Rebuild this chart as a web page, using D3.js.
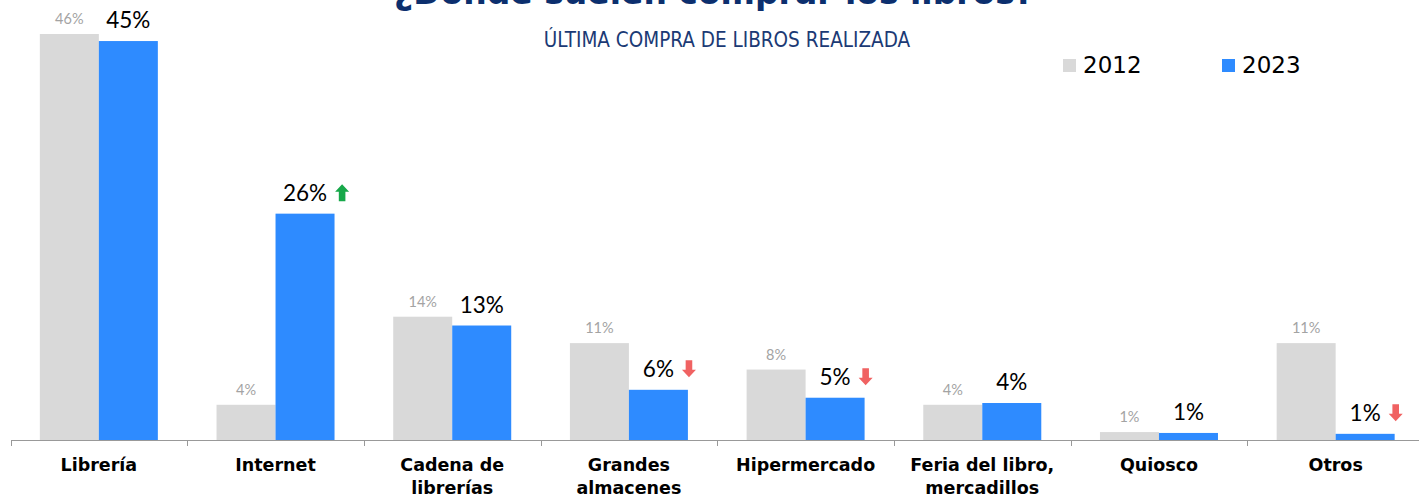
<!DOCTYPE html>
<html>
<head>
<meta charset="utf-8">
<script src="https://cdn.jsdelivr.net/npm/d3@7"></script>
<style>
  body { margin: 0; background: #fff; }
  svg { display: block; }
</style>
</head>
<body>
<svg id="svgCanvas" width="1419" height="494"></svg>
<script>
// data
var categories = ["Librería", "Internet", "Cadena de|librerías", "Grandes|almacenes", "Hipermercado", "Feria del libro,|mercadillos", "Quiosco", "Otros"];
var values2012 = [46.1, 4.0, 14.0, 11.0, 8.0, 4.0, 0.9, 11.0];
var values2023 = [45.3, 25.7, 13.0, 5.7, 4.8, 4.2, 0.8, 0.7];
var labels2012 = ["46%", "4%", "14%", "11%", "8%", "4%", "1%", "11%"];
var labels2023 = ["45%", "26%", "13%", "6%", "5%", "4%", "1%", "1%"];
var trends = ["", "up", "", "down", "down", "", "", "down"];
var years = ["2012", "2023"];
var colors = ["#d9d9d9", "#2e8bff"];

var svg = d3.select("#svgCanvas");
var baseY = 440;

var x = d3.scaleBand().domain(categories).range([10.5, 1424]).paddingInner(0).paddingOuter(0);
var sub = d3.scaleBand().domain(years).range([0, 118]);
var y = d3.scaleLinear().domain([0, 46.1]).range([baseY, 34]);

// title (mostly cut off above the frame)
svg.append("text").attr("x", 714).attr("y", 4).attr("text-anchor", "middle")
  .attr("font-family", "DejaVu Sans").attr("font-weight", "bold").attr("font-size", 33)
  .attr("fill", "#0c2f6e").text("¿Donde suelen comprar los libros?");
svg.append("text").attr("x", 727).attr("y", 47).attr("text-anchor", "middle")
  .attr("font-family", "DejaVu Sans Condensed, DejaVu Sans").attr("font-size", 20.5)
  .attr("fill", "#1b3a75").text("ÚLTIMA COMPRA DE LIBROS REALIZADA");

var groups = svg.selectAll("g.cat").data(categories).enter().append("g")
  .attr("class", "cat")
  .attr("transform", function(d){ return "translate(" + (x(d) + (x.bandwidth() - 118) / 2) + ",0)"; });

groups.append("rect")
  .attr("x", sub("2012")).attr("width", sub.bandwidth())
  .attr("y", function(d, i){ return y(values2012[i]); })
  .attr("height", function(d, i){ return baseY - y(values2012[i]); })
  .attr("fill", colors[0]);
groups.append("rect")
  .attr("x", sub("2023")).attr("width", sub.bandwidth())
  .attr("y", function(d, i){ return y(values2023[i]); })
  .attr("height", function(d, i){ return baseY - y(values2023[i]); })
  .attr("fill", colors[1]);

groups.append("text")
  .attr("x", sub("2012") + sub.bandwidth() / 2)
  .attr("y", function(d, i){ return y(values2012[i]) - 10; })
  .attr("text-anchor", "middle").attr("font-family", "Lato").attr("font-size", 14.5)
  .attr("fill", "#a3a3a3")
  .text(function(d, i){ return labels2012[i]; });
var bigLabels = groups.append("text")
  .attr("x", sub("2023") + sub.bandwidth() / 2)
  .attr("y", function(d, i){ return y(values2023[i]) - 13; })
  .attr("text-anchor", "middle").attr("font-family", "Lato").attr("font-size", 22.5)
  .attr("fill", "#000")
  .text(function(d, i){ return labels2023[i]; });

// trend arrows, just after the 2023 label
var upPath = "M0,-8.5 L7,-1 L3.3,-1 L3.3,8.5 L-3.3,8.5 L-3.3,-1 L-7,-1 Z";
bigLabels.each(function(d, i){
  if (!trends[i]) return;
  var w = this.getComputedTextLength();
  var cx = sub("2023") + sub.bandwidth() / 2 + w / 2 + 15;
  var cy = y(values2023[i]) - 21;
  d3.select(this.parentNode).append("path")
    .attr("transform", "translate(" + cx + "," + cy + ")" + (trends[i] === "down" ? " rotate(180)" : ""))
    .attr("d", upPath)
    .attr("fill", trends[i] === "up" ? "#17a84a" : "#f06262");
});

// axis
var axis = svg.append("g").attr("transform", "translate(0," + baseY + ")")
  .call(d3.axisBottom(x).tickSize(0).tickFormat(""));
axis.select(".domain").attr("stroke", "#999");
axis.selectAll(".tick").remove();
svg.append("g").selectAll("line").data(categories).enter().append("line")
  .attr("x1", function(d){ return Math.round(x(d)) + 0.5; }).attr("x2", function(d){ return Math.round(x(d)) + 0.5; })
  .attr("y1", baseY).attr("y2", baseY + 6).attr("stroke", "#999");

svg.append("g").selectAll("text").data(categories).enter().append("text")
  .attr("x", function(d){ return x(d) + x.bandwidth() / 2; })
  .attr("y", 471)
  .attr("text-anchor", "middle").attr("font-family", "DejaVu Sans").attr("font-weight", "bold")
  .attr("font-size", 17.5).attr("fill", "#000")
  .each(function(d){
    var t = d3.select(this);
    d.split("|").forEach(function(line, k){
      t.append("tspan").attr("x", x(d) + x.bandwidth() / 2).attr("dy", k ? 23 : 0).text(line);
    });
  });

// legend
var legend = svg.append("g").selectAll("g").data(years).enter().append("g")
  .attr("transform", function(d, i){ return "translate(" + (1063 + i * 159) + ",59)"; });
legend.append("rect").attr("width", 13).attr("height", 13).attr("fill", function(d, i){ return colors[i]; });
legend.append("text").attr("x", 20).attr("y", 14).attr("font-family", "DejaVu Sans")
  .attr("font-size", 23).attr("fill", "#000").text(function(d){ return d; });
</script>
</body>
</html>
